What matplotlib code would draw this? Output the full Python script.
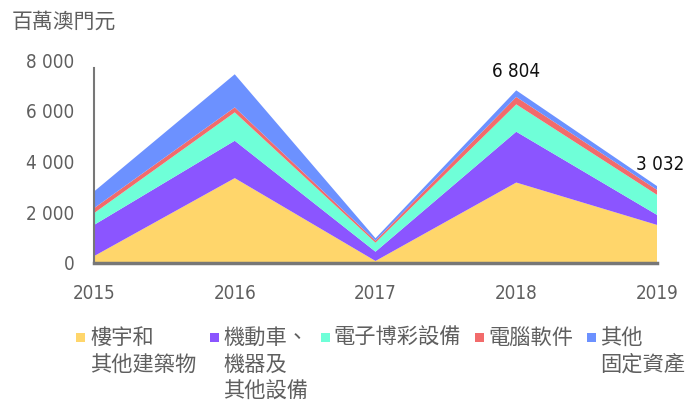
import matplotlib
matplotlib.use("Agg")
import matplotlib.pyplot as plt
from matplotlib.patches import Rectangle
from matplotlib.ticker import FuncFormatter
import numpy as np

years = ["2015", "2016", "2017", "2018", "2019"]
buildings = [270, 3345, 80, 3171, 1501]
vehicles = [1230, 1473, 366, 2003, 395]
gaming = [463, 1118, 354, 1078, 790]
software = [197, 197, 80, 292, 197]
other = [656, 1304, 95, 260, 149]
totals_labeled = {"2018": 6804, "2019": 3032}

series_names = ["樓宇和\n其他建築物", "機動車、\n機器及\n其他設備", "電子博彩設備", "電腦軟件", "其他\n固定資產"]
colors = ["#FFD66B", "#8B55FF", "#6FFFD8", "#F26B6B", "#6C91FF"]
y_ticks = [0, 2000, 4000, 6000, 8000]
unit_label = "百萬澳門元"

CJK = ["Noto Sans CJK TC", "DejaVu Sans"]
GRAY = "#5f5f5f"

def numfont(t, size=13.5):
    t.set_family("DejaVu Sans")
    t.set_stretch("condensed")
    t.set_fontsize(size)

fig = plt.figure(figsize=(6.86, 4.03), dpi=100)
ax = fig.add_axes([94/686, 1-263/403, (657-94)/686, (263-60)/403])

x = np.arange(len(years))
ax.stackplot(x, buildings, vehicles, gaming, software, other, colors=colors, linewidth=0)

ax.set_xlim(0, len(years)-1)
ax.set_ylim(0, 8000)
ax.set_yticks(y_ticks)
ax.yaxis.set_major_formatter(FuncFormatter(lambda v, p: f"{int(v):,}".replace(",", " ")))
ax.set_xticks(x)
ax.set_xticklabels(years)
for lab in ax.get_xticklabels() + ax.get_yticklabels():
    numfont(lab)
    lab.set_color(GRAY)
ax.tick_params(axis="both", length=0)
ax.tick_params(axis="x", pad=15)
ax.tick_params(axis="y", pad=14)

for s in ["top", "right"]:
    ax.spines[s].set_visible(False)
ax.spines["left"].set_color("#777777")
ax.spines["left"].set_linewidth(1.5)
ax.spines["bottom"].set_color("#777777")
ax.spines["bottom"].set_linewidth(2.5)
ax.spines["left"].set_bounds(0, 7700)

for yr, val in totals_labeled.items():
    i = years.index(yr)
    t = ax.annotate(f"{val:,}".replace(",", " "), (i, val), xytext=(2 if yr == "2019" else 0, 7 if yr == "2018" else 9),
                    textcoords="offset points", ha="center", va="bottom", color="#111111")
    numfont(t)

fig.text(12/686, 1-22/403, unit_label, family=CJK, fontsize=15, color=GRAY, ha="left", va="center")

sq_x = [76, 210, 321, 475, 587]
txt_x = [90, 223, 333, 488, 600]
for name, c, sx, tx in zip(series_names, colors, sq_x, txt_x):
    fig.patches.append(Rectangle((sx/686, 1-342/403), 9/686, 9/403, transform=fig.transFigure,
                                 facecolor=c, edgecolor="none"))
    fig.text(tx/686, 1-327/403, name, family=CJK, fontsize=15.3, color=GRAY,
             ha="left", va="top", linespacing=1.28)

fig.savefig("out.png", dpi=100)
